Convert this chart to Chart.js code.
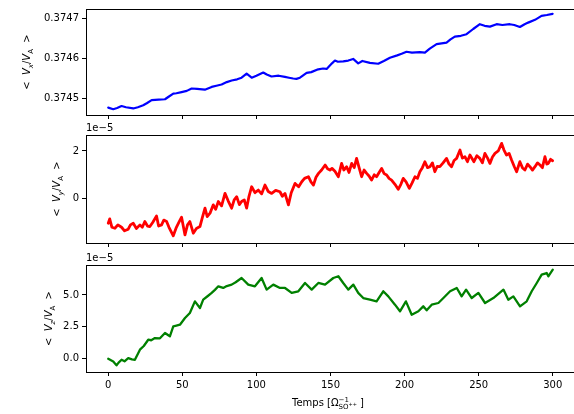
<!DOCTYPE html>
<html>
<head>
<meta charset="utf-8">
<script src="https://cdn.jsdelivr.net/npm/chart.js@4.4.0/dist/chart.umd.min.js"></script>
<style>
  html, body { margin: 0; padding: 0; background: #fff; overflow: hidden; }
  #wrap { position: relative; width: 574px; height: 414px; overflow: hidden; }
  canvas { position: absolute; left: 0; top: 0; }
</style>
</head>
<body>
<div id="wrap">
  <canvas id="cx" width="576" height="414"></canvas>
  <canvas id="cy" width="576" height="414"></canvas>
  <canvas id="cz" width="576" height="414"></canvas>
</div>
<script>
// --- DONNEES ---

// axe commun
const xTicks = [0, 50, 100, 150, 200, 250, 300];

// < Vx/VA >
const tVx = [0, 3.4, 6, 9, 12, 16.9, 20, 23.6, 26, 29.3, 34, 38.3, 41, 43.9, 46, 49.5, 53, 56.3, 60, 65.2,
  69.8, 73, 76.5, 80, 83.3, 87, 90, 93.4, 96.8, 100, 104.6, 107, 110.2, 115, 119.2, 122, 124.8, 127, 129.4, 133.9,
  137, 141.7, 145, 147.4, 151, 153, 155, 158.6, 162, 165.3, 168.7, 171.5, 176.6, 182.2, 186, 190.1, 195, 198, 201.3, 205,
  210.3, 213.7, 217, 221.6, 225, 228.3, 231, 233.9, 238, 241.8, 246.3, 250.8, 254, 257.6, 262.1, 266, 271, 274, 277.8, 281,
  283.4, 288, 292.4, 296, 299.9];
const vx = [0.374477, 0.374473, 0.374476, 0.374481, 0.374478, 0.374475, 0.374478, 0.374483, 0.374488, 0.374496,
  0.374497, 0.374498, 0.374505, 0.374512, 0.374513, 0.374516, 0.374519, 0.374525, 0.374524, 0.374522,
  0.374529, 0.374532, 0.374535, 0.374541, 0.374545, 0.374548, 0.374552, 0.374562, 0.374552, 0.374557,
  0.374565, 0.37456, 0.374555, 0.374557, 0.374554, 0.374552, 0.37455, 0.374549, 0.374552, 0.374564,
  0.374566, 0.374573, 0.374575, 0.374574, 0.374588, 0.374595, 0.374592, 0.374593, 0.374595, 0.374599,
  0.374588, 0.374594, 0.374589, 0.374587, 0.374594, 0.374602, 0.374608, 0.374612, 0.374617, 0.374615,
  0.374616, 0.374615, 0.374625, 0.374636, 0.374638, 0.37464, 0.374648, 0.374655, 0.374657, 0.374661,
  0.374674, 0.374686, 0.374682, 0.37468, 0.374686, 0.374684, 0.374686, 0.374684, 0.374679, 0.374686,
  0.37469, 0.374697, 0.374707, 0.374709, 0.374712];
const vxTicks = [0.3745, 0.3746, 0.3747];

// < Vy/VA > (en unites de 1e-5)
const tVy = [0, 1, 2.5, 4.5, 6.5, 9, 11, 13.5, 15, 16.9, 19, 21.4, 23, 24.7, 26.5, 28.1, 30, 32.6, 34, 36,
  37.5, 39.4, 41, 43.9, 46, 48, 49.5, 51.8, 53.5, 55.1, 57.4, 59.5, 61.9, 63.5, 65.3, 66.8, 68.7, 70.9, 72.5, 74.3,
  76.5, 78.8, 81, 83.3, 85, 86.7, 88.5, 90, 91.8, 93.4, 95, 96.8, 99, 101.3, 103.5, 105.8, 108, 110.3, 113, 115.9,
  117.5, 119.3, 121.6, 123.5, 126.1, 128.5, 130.6, 132.5, 135.1, 136.8, 138.5, 140.2, 141.9, 144, 146.4, 148, 149.6, 151, 153, 155.3,
  157.5, 159, 160.9, 162.5, 164.3, 166, 167.6, 169.3, 171, 172.7, 174.4, 176, 177.7, 179.5, 181.1, 182.8, 184.5, 186.2, 187.9, 189.5,
  191.2, 193.5, 195.7, 197.5, 199.1, 201, 203.2, 205, 207, 208.7, 210.3, 212, 213.7, 215.5, 217.1, 218.8, 220.4, 222, 223.8, 226,
  228.3, 230, 231.7, 233.4, 235.1, 237.4, 239, 240.7, 242.4, 244.1, 246.8, 248.8, 250.8, 252.5, 254.2, 256, 257.6, 259.3, 261, 263.2,
  265.5, 267, 268.8, 270.5, 272.2, 274, 275.6, 277.8, 279.5, 281.2, 283, 284.6, 286.3, 288, 289.7, 291.4, 293, 294.7, 296, 297,
  298.5, 299.9];
const vy = [-1.03, -0.85, -1.2, -1.24, -1.1, -1.2, -1.35, -1.28, -1.1, -1.03, -1.25, -1.1, -1.2, -0.96, -1.15, -1.17, -1.0, -0.73, -1.15, -1.1,
  -0.9, -0.96, -1.2, -1.56, -1.2, -0.95, -0.78, -1.52, -1.1, -0.96, -1.45, -1.25, -1.17, -0.8, -0.4, -0.75, -0.61, -0.26, -0.45, -0.12,
  -0.3, 0.22, -0.1, -0.4, -0.05, 0.08, -0.25, -0.12, -0.05, -0.4, 0.1, 0.5, 0.25, 0.36, 0.2, 0.57, 0.3, 0.22, 0.35, 0.29,
  0.1, 0.22, -0.26, 0.25, 0.64, 0.5, 0.71, 0.85, 0.92, 0.7, 0.57, 0.9, 1.06, 1.2, 1.41, 1.25, 1.2, 1.27, 1.15, 0.92,
  1.48, 1.2, 1.34, 1.1, 1.48, 1.3, 1.69, 1.3, 0.92, 1.2, 1.06, 0.95, 0.78, 1.0, 0.92, 1.1, 1.27, 1.05, 0.99, 0.85,
  0.78, 0.6, 0.39, 0.6, 0.85, 0.7, 0.43, 0.65, 0.92, 0.85, 1.13, 1.3, 1.55, 1.3, 1.34, 1.5, 1.13, 1.35, 1.34, 1.5,
  1.69, 1.45, 1.34, 1.6, 1.69, 2.04, 1.7, 1.76, 1.55, 1.83, 1.55, 1.8, 1.69, 1.5, 1.9, 1.7, 1.48, 1.75, 1.9, 2.0,
  2.32, 2.05, 1.83, 1.9, 1.62, 1.35, 1.13, 1.55, 1.3, 1.2, 1.45, 1.34, 1.2, 1.34, 1.5, 1.41, 1.3, 1.76, 1.45, 1.48,
  1.65, 1.59];
const vyTicks = [0, 2];

// < Vz/VA > (en unites de 1e-5)
const tVz = [0, 3.4, 5.6, 7, 9, 11, 13.5, 16, 18, 21.4, 24, 27, 29, 31.5, 34.9, 38.3, 41.6, 43.9, 46, 48.4,
  51.8, 55.1, 58.5, 61.9, 64.1, 67, 69.8, 72, 74.3, 77.6, 80, 83.3, 86, 90, 94.5, 99, 103.5, 106.9, 111.4, 115.9,
  119.3, 123.8, 128.3, 132.8, 137.3, 141.8, 146.3, 151.9, 155.3, 158.6, 162, 165.4, 168.7, 172.1, 176.6, 181.1, 185.6, 189, 193.5, 196.9,
  200.9, 204.8, 209.3, 212.6, 214.9, 218.3, 222.8, 226.2, 230.7, 235.2, 238.5, 241.5, 245.3, 249.8, 254.3, 259.9, 266.7, 270, 273.4, 277.9,
  282.4, 285.8, 289.2, 292.5, 295.9, 297, 300];
const vz = [0.0, -0.21, -0.52, -0.3, -0.08, -0.2, 0.05, -0.05, -0.08, 0.71, 1.0, 1.49, 1.45, 1.62, 1.6, 2.02, 1.76, 2.54, 2.6, 2.67,
  3.19, 3.59, 4.5, 3.98, 4.63, 4.9, 5.16, 5.4, 5.68, 5.55, 5.7, 5.81, 6.0, 6.33, 5.81, 5.68, 6.33, 5.42, 5.81, 5.55,
  5.55, 5.16, 5.29, 5.94, 5.42, 5.94, 5.81, 6.33, 6.47, 5.94, 5.42, 5.81, 5.16, 4.76, 4.63, 4.5, 5.29, 4.89, 4.24, 3.72,
  4.5, 3.45, 3.72, 4.11, 3.8, 4.24, 4.37, 4.76, 5.29, 5.55, 4.89, 5.42, 4.76, 5.16, 4.37, 4.76, 5.42, 4.63, 4.89, 4.11,
  4.5, 5.29, 5.94, 6.59, 6.72, 6.46, 6.99];
const vzTicks = [0, 2.5, 5];

// --- TEXTES AVEC INDICES / EXPOSANTS ---

const FONT = '"DejaVu Sans", sans-serif';

function runFont(r) {
  return (r.it ? 'italic ' : '') + (r.s || 10) + 'px ' + FONT;
}

function runsWidth(ctx, runs) {
  let w = 0;
  runs.forEach(r => {
    ctx.font = runFont(r);
    if (!r.hold) w += ctx.measureText(r.t).width;
  });
  return w;
}

function drawRuns(ctx, runs, x, y) {
  let cx = x;
  runs.forEach(r => {
    ctx.font = runFont(r);
    ctx.fillText(r.t, cx, y + (r.dy || 0));
    if (!r.hold) cx += ctx.measureText(r.t).width;
  });
}

function yLabel(c) {
  return [
    { t: '<  ' }, { t: 'V', it: true }, { t: c, s: 7, dy: 2.5, it: true },
    { t: '/' }, { t: 'V', it: true }, { t: 'A', s: 7, dy: 2.5 }, { t: '  >' }
  ];
}

const xLabel = [
  { t: 'Temps [Ω' },
  { t: '−1', s: 7, dy: -4, hold: true },
  { t: 'SO', s: 7, dy: 3 }, { t: '++', s: 5, dy: 0 },
  { t: ' ]' }
];

// cadre, texte de decalage "1e-5", titres d'axes
const decoPlugin = {
  id: 'deco',
  afterDraw(chart, args, opts) {
    const { ctx, chartArea: a } = chart;
    ctx.save();
    ctx.strokeStyle = '#000';
    ctx.lineWidth = 1;
    ctx.strokeRect(Math.round(a.left) + 0.5, Math.round(a.top) + 0.5,
      Math.round(a.right - a.left), Math.round(a.bottom - a.top));
    ctx.fillStyle = '#000';
    ctx.textBaseline = 'alphabetic';
    if (opts.offset) {
      ctx.font = '10px ' + FONT;
      ctx.fillText(opts.offset, a.left, a.top - 4);
    }
    if (opts.xlabel) {
      drawRuns(ctx, opts.xlabel, opts.xlabelX, opts.xlabelY);
    }
    if (opts.ylabel) {
      ctx.translate(opts.ylabelX, (a.top + a.bottom) / 2);
      ctx.rotate(-Math.PI / 2);
      const w = runsWidth(ctx, opts.ylabel);
      drawRuns(ctx, opts.ylabel, -w / 2, 0);
    }
    ctx.restore();
  }
};

// --- PANNEAUX ---

function makePanel(id, t, v, color, width, yMin, yMax, yTicks, yFmt, top, bottom, deco, showX) {
  const tickFont = { family: FONT, size: 10 };
  return new Chart(document.getElementById(id), {
    type: 'line',
    data: {
      datasets: [{
        data: t.map((x, i) => ({ x: x, y: v[i] })),
        borderColor: color,
        borderWidth: width,
        borderJoinStyle: 'round',
        borderCapStyle: 'round',
        pointRadius: 0,
        tension: 0,
        fill: false
      }]
    },
    options: {
      responsive: false,
      animation: false,
      devicePixelRatio: 1,
      layout: { padding: { left: 0, right: 1, top: top, bottom: 0 } },
      plugins: { legend: { display: false }, tooltip: { enabled: false }, deco: deco },
      scales: {
        x: {
          type: 'linear', min: -15, max: 315,
          afterBuildTicks: s => { s.ticks = xTicks.map(val => ({ value: val })); },
          afterFit: s => { s.height = 414 - bottom; },
          ticks: { display: showX, font: tickFont, color: '#000', padding: 3, maxRotation: 0 },
          grid: { drawOnChartArea: false, drawTicks: true, tickLength: 4, tickColor: '#000', tickWidth: 1 },
          border: { display: false }
        },
        y: {
          type: 'linear', min: yMin, max: yMax,
          afterBuildTicks: s => { s.ticks = yTicks.map(val => ({ value: val })); },
          afterFit: s => { s.width = 86; },
          ticks: { font: tickFont, color: '#000', padding: 3, callback: yFmt },
          grid: { drawOnChartArea: false, drawTicks: true, tickLength: 4, tickColor: '#000', tickWidth: 1 },
          border: { display: false }
        }
      }
    },
    plugins: [decoPlugin]
  });
}

makePanel('cx', tVx, vx, '#0000ff', 2.2, 0.3744586, 0.3747241, vxTicks,
  val => val.toFixed(4), 8, 115,
  { ylabel: yLabel('x'), ylabelX: 30 }, false);

makePanel('cy', tVy, vy, '#ff0000', 2.8, -1.86, 2.67, vyTicks,
  val => String(val), 135, 243,
  { ylabel: yLabel('y'), ylabelX: 60, offset: '1e\u22125' }, false);

makePanel('cz', tVz, vz, '#008000', 2.3, -1.04, 7.35, vzTicks,
  val => val.toFixed(1), 265, 372,
  { ylabel: yLabel('z'), ylabelX: 52, offset: '1e\u22125', xlabel: xLabel, xlabelX: 292, xlabelY: 406 }, true);
</script>
</body>
</html>
